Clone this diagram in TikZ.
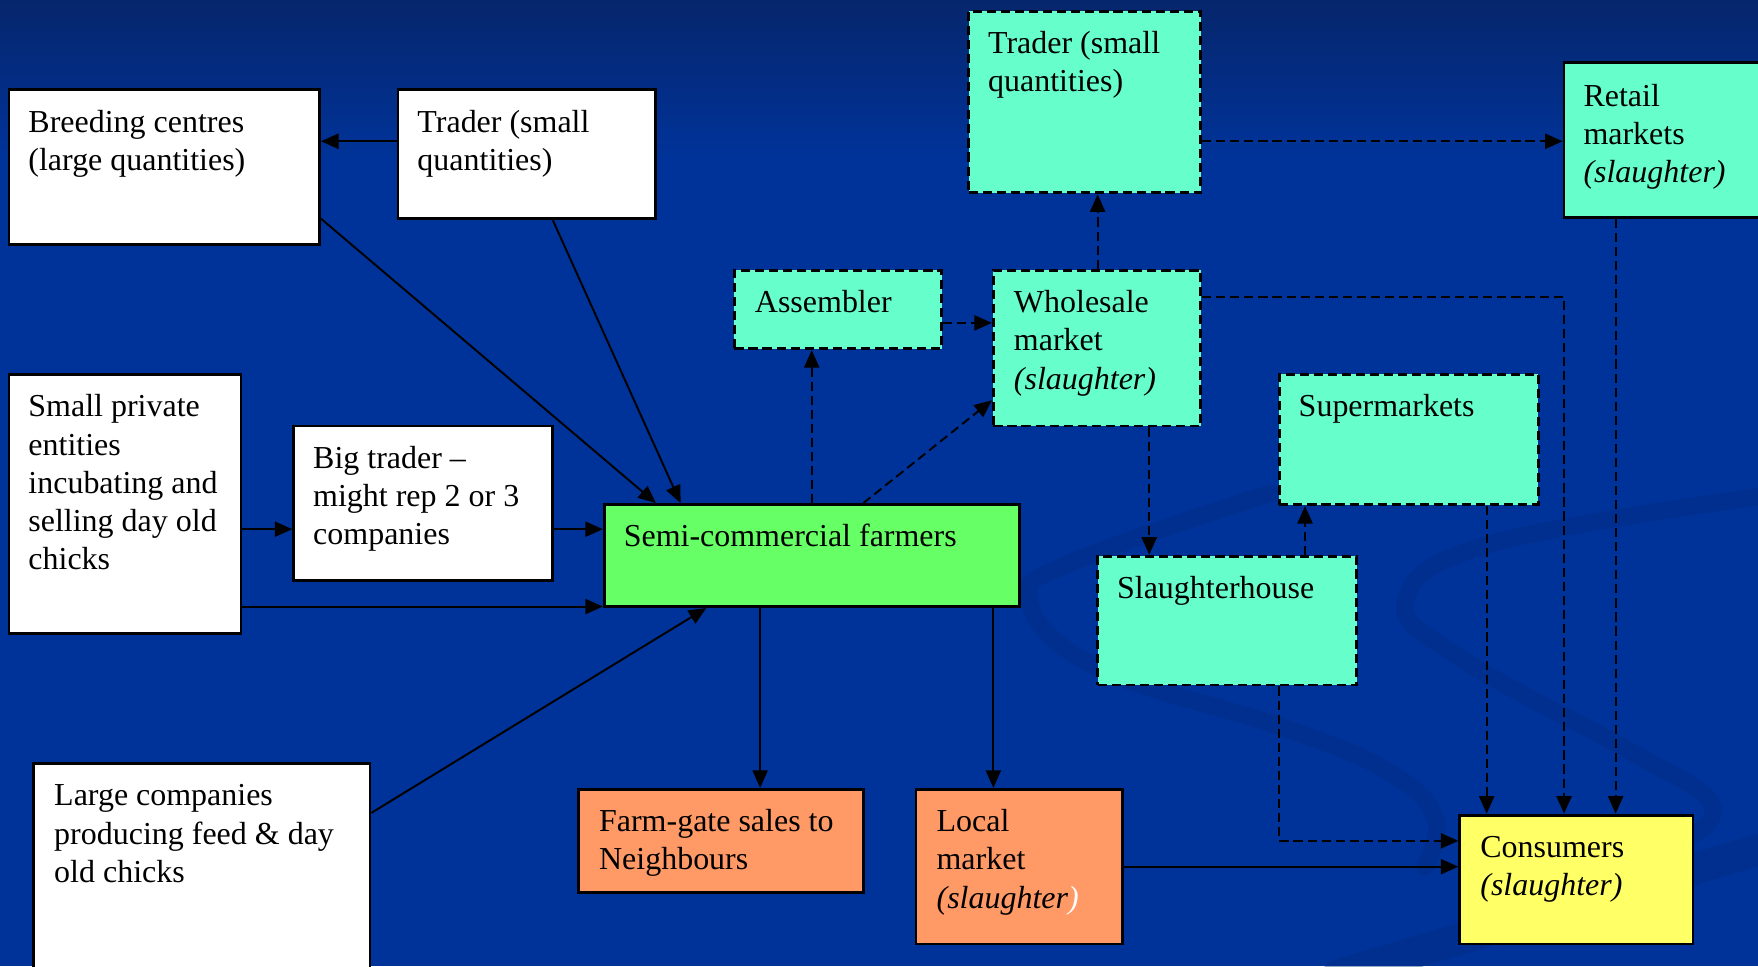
\documentclass[tikz,border=0pt]{standalone}
\usepackage{fontspec}
\setmainfont{Liberation Serif}
\usetikzlibrary{arrows.meta,fit}
\definecolor{bgblue}{HTML}{003399}
\definecolor{bgtop}{HTML}{06266C}
\definecolor{swirlc}{HTML}{002A80}
\definecolor{aqua}{HTML}{66FFCC}
\definecolor{lgreen}{HTML}{66FF66}
\definecolor{lorange}{HTML}{FF9966}
\definecolor{lyellow}{HTML}{FFFF66}
\begin{document}
\begin{tikzpicture}[x=0.011212cm,y=-0.011212cm,
  box/.style={draw=black, line width=0.8pt, inner sep=0pt},
  dbox/.style={box, dash pattern=on 2.6pt off 1.4pt},
  txt/.style={anchor=base west, inner sep=0pt, font=\fontsize{9.1}{10.9}\selectfont},
  conn/.style={line width=0.55pt, -{Triangle[length=5pt,width=4.3pt]}},
  dconn/.style={conn, dash pattern=on 2.6pt off 1.4pt},
  swirl/.style={draw=swirlc, line width=5pt, line cap=round, opacity=0.4}]
\useasboundingbox (0,0) rectangle (1568,862);
\begin{scope}
\clip (0,0) rectangle (1568,862);
\fill[bgblue] (0,0) rectangle (1568,862);
\shade[top color=bgtop, bottom color=bgblue] (0,0) rectangle (1568,140);
% background swirls
\draw[swirl] plot[smooth, tension=0.7] coordinates {(1133,440) (960,500) (918,535) (978,595) (1142,648) (1236,687) (1280,729) (1271,773)};
\draw[swirl] plot[smooth, tension=0.7] coordinates {(1568,443) (1330,485) (1254,535) (1301,586) (1452,669) (1525,714) (1513,743)};
\draw[swirl, line width=9pt] (1193,870) -- (1575,756);

% boxes
\node[box, fill=white, fit={(8,80) (285,218)}] (bc) {};
\node[box, fill=white, fit={(355,80) (585,195)}] (tr1) {};
\node[box, fill=white, fit={(8,334) (215,565)}] (sp) {};
\node[box, fill=white, fit={(262,380) (493,518)}] (bt) {};
\node[box, fill=white, fit={(30,681) (330,880)}] (lc) {};
\node[box, fill=lgreen, fit={(539,450) (909,541)}] (sc) {};
\node[dbox, fill=aqua, fit={(655,241) (840,311)}] (as) {};
\node[dbox, fill=aqua, fit={(886,241) (1071,380)}] (wm) {};
\node[dbox, fill=aqua, fit={(864,10) (1071,172)}] (tr2) {};
\node[box, fill=aqua, fit={(1395,56) (1585,194)}] (rm) {};
\node[dbox, fill=aqua, fit={(1141,334) (1372,450)}] (su) {};
\node[dbox, fill=aqua, fit={(979,496) (1210,611)}] (sh) {};
\node[box, fill=lorange, fit={(516,704) (770,796)}] (fg) {};
\node[box, fill=lorange, fit={(817,704) (1001,842)}] (lm) {};
\node[box, fill=lyellow, fit={(1302,727) (1510,842)}] (co) {};

% texts
\node[txt] (bc-t) at ([shift={(18,39)}]bc.north west) {\parbox[t]{5cm}{Breeding centres\\(large quantities)}};
\node[txt] (tr1-t) at ([shift={(18,39)}]tr1.north west) {\parbox[t]{5cm}{Trader (small\\quantities)}};
\node[txt] (sp-t) at ([shift={(18,39)}]sp.north west) {\parbox[t]{5cm}{Small private\\entities\\incubating and\\selling day old\\chicks}};
\node[txt] (bt-t) at ([shift={(18,39)}]bt.north west) {\parbox[t]{5cm}{Big trader --\\might rep 2 or 3\\companies}};
\node[txt] (lc-t) at ([shift={(19,39)}]lc.north west) {\parbox[t]{5cm}{Large companies\\producing feed \& day\\old chicks}};
\node[txt] (sc-t) at ([shift={(18,39)}]sc.north west) {\parbox[t]{6cm}{Semi-commercial farmers}};
\node[txt] (as-t) at ([shift={(19,39)}]as.north west) {\parbox[t]{5cm}{Assembler}};
\node[txt] (wm-t) at ([shift={(19,39)}]wm.north west) {\parbox[t]{5cm}{Wholesale\\market\\\textit{(slaughter)}}};
\node[txt] (tr2-t) at ([shift={(18,39)}]tr2.north west) {\parbox[t]{5cm}{Trader (small\\quantities)}};
\node[txt] (rm-t) at ([shift={(18,40)}]rm.north west) {\parbox[t]{5cm}{Retail\\markets\\\textit{(slaughter)}}};
\node[txt] (su-t) at ([shift={(18,39)}]su.north west) {\parbox[t]{5cm}{Supermarkets}};
\node[txt] (sh-t) at ([shift={(18,39)}]sh.north west) {\parbox[t]{5cm}{Slaughterhouse}};
\node[txt] (fg-t) at ([shift={(19,39)}]fg.north west) {\parbox[t]{5cm}{Farm-gate sales to\\Neighbours}};
\node[txt] (lm-t) at ([shift={(19,39)}]lm.north west) {\parbox[t]{5cm}{Local\\market\\\textit{(slaughter}\textcolor{white}{\textit{)}}}};
\node[txt] (co-t) at ([shift={(19,39)}]co.north west) {\parbox[t]{5cm}{Consumers\\\textit{(slaughter)}}};

% solid connectors
\draw[conn] (tr1.west |- 0,126) -- (bc.east |- 0,126);
\draw[conn] (bc.east |- 0,195) -- (sc.north -| 585,0);
\draw[conn] (tr1.south -| 493,0) -- (sc.north -| 607,0);
\draw[conn] (sp.east |- 0,472) -- (bt.west |- 0,472);
\draw[conn] (bt.east |- 0,472) -- (sc.west |- 0,472);
\draw[conn] (sp.east |- 0,541) -- (sc.west |- 0,541);
\draw[conn] (lc.east |- 0,725) -- (sc.south -| 630,0);
\draw[conn] (sc.south -| 678,0) -- (fg.north -| 678,0);
\draw[conn] (sc.south -| 886,0) -- (lm.north -| 886,0);
\draw[conn] (lm.east |- 0,773) -- (co.west |- 0,773);

% dashed connectors
\draw[dconn] (sc.north -| 724,0) -- (as.south -| 724,0);
\draw[dconn] (sc.north -| 770,0) -- (wm.west |- 0,357);
\draw[dconn] (as.east |- 0,288) -- (wm.west |- 0,288);
\draw[dconn] (wm.north -| 979,0) -- (tr2.south -| 979,0);
\draw[dconn] (tr2.east |- 0,126) -- (rm.west |- 0,126);
\draw[dconn] (wm.east |- 0,265) -| (co.north -| 1395,0);
\draw[dconn] (rm.south -| 1441,0) -- (co.north -| 1441,0);
\draw[dconn] (wm.south -| 1025,0) -- (sh.north -| 1025,0);
\draw[dconn] (sh.north -| 1164,0) -- (su.south -| 1164,0);
\draw[dconn] (su.south -| 1326,0) -- (co.north -| 1326,0);
\draw[dconn] (sh.south -| 1141,0) |- (co.west |- 0,750);
\end{scope}
\end{tikzpicture}
\end{document}
